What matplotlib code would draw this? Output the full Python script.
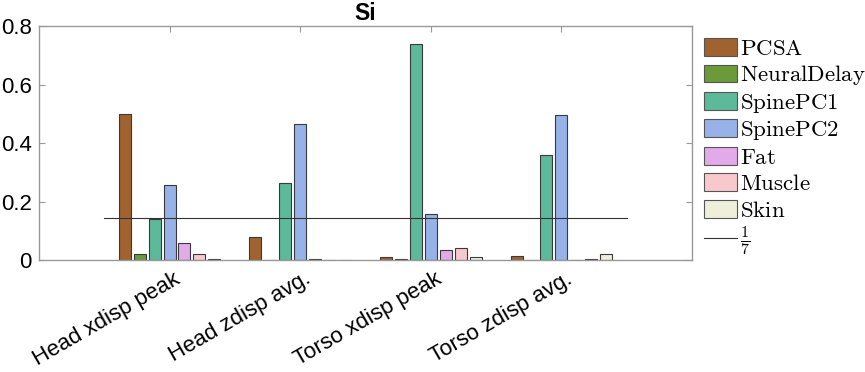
import numpy as np
import matplotlib
matplotlib.use("Agg")
import matplotlib.pyplot as plt
from matplotlib.patches import Patch
from matplotlib.lines import Line2D
from matplotlib.transforms import ScaledTranslation

# data
categories = ['Head xdisp peak', 'Head zdisp avg.', 'Torso xdisp peak', 'Torso zdisp avg.']
params = ['PCSA', 'NeuralDelay', 'SpinePC1', 'SpinePC2', 'Fat', 'Muscle', 'Skin']
pcsa = [0.500, 0.079, 0.012, 0.015]
neural_delay = [0.020, 0.000, 0.005, 0.000]
spine_pc1 = [0.140, 0.264, 0.739, 0.358]
spine_pc2 = [0.255, 0.465, 0.158, 0.495]
fat = [0.057, 0.002, 0.033, 0.001]
muscle = [0.019, 0.000, 0.041, 0.002]
skin = [0.005, 0.000, 0.010, 0.022]
colors = ['#A0622F', '#6A9A3A', '#5CBA9B', '#96B2E8', '#E2AAE8', '#F8C9CC', '#EFEEDB']
ref_level = 1 / 7

series = [pcsa, neural_delay, spine_pc1, spine_pc2, fat, muscle, skin]

plt.rcParams['mathtext.fontset'] = 'cm'
plt.rcParams['font.family'] = 'Liberation Sans'

fig = plt.figure(figsize=(8.65, 3.72), dpi=100)
ax = fig.add_axes([0.045, 0.301, 0.755, 0.629])

x = np.arange(1, len(categories) + 1)
n = len(series)
slot = 0.8 / n
for i, vals in enumerate(series):
    ax.bar(x + (i - (n - 1) / 2) * slot, vals, width=0.8 * slot,
           color=colors[i], edgecolor='#3a3a3a', linewidth=0.8, zorder=2)

ax.plot([0.5, len(categories) + 0.5], [ref_level, ref_level], color='#333333',
        linewidth=0.8, zorder=3)

ax.set_xlim(0, 5)
ax.set_ylim(0, 0.8)
ax.set_yticks([0, 0.2, 0.4, 0.6, 0.8])
ax.set_yticklabels(['0', '0.2', '0.4', '0.6', '0.8'])
ax.set_xticks(x)
ax.set_xticklabels(categories, rotation=30, ha='right', va='top',
                   rotation_mode='anchor')
ax.tick_params(direction='in', length=4.5, width=0.8, color='#999999',
               labelsize=16, top=True, right=True, pad=5)
ax.tick_params(axis='x', pad=6)
# shift rotated labels a bit to the right of the tick, like MATLAB does
for lbl in ax.get_xticklabels():
    lbl.set_transform(lbl.get_transform() + ScaledTranslation(3 / 72, 0, fig.dpi_scale_trans))
for s in ax.spines.values():
    s.set_color('#999999')
    s.set_linewidth(1.0)

ax.set_title('Si', fontsize=16.5, fontweight='bold', pad=4)

handles = [Patch(facecolor=c, edgecolor='#555555', linewidth=0.8) for c in colors]
handles.append(Line2D([], [], color='#333333', linewidth=0.8))
labels = [r'$\mathrm{%s}$' % p for p in params] + [r'$\frac{1}{7}$']
leg = ax.legend(handles, labels, loc='upper left', bbox_to_anchor=(1 + 12 / 653, 1 - 11 / 234),
                frameon=False, fontsize=16.5, handlelength=1.42, handleheight=0.82,
                handletextpad=0.15, labelspacing=0.15, borderaxespad=0, borderpad=0)

fig.savefig('out.png', dpi=100)
